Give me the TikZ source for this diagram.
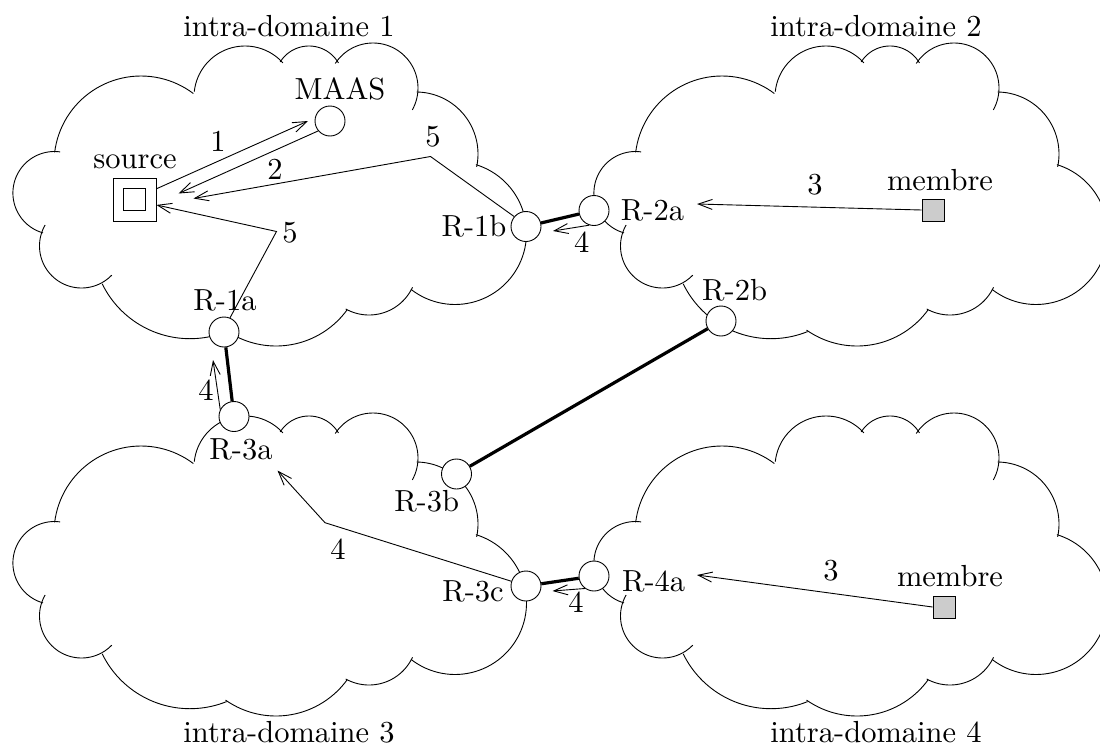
\documentclass[tikz,border=0pt]{standalone}
\usepackage{fontspec}
\setmainfont{lmroman10-regular.otf}
\usetikzlibrary{arrows.meta,calc}
\tikzset{
  cloudline/.style={line width=0.9pt},
  router/.style={circle,draw,line width=0.9pt,fill=white,minimum size=30pt,inner sep=0pt},
  srcbox/.style={draw,line width=0.9pt,fill=white,minimum size=43pt,inner sep=0pt},
  inbox/.style={draw,line width=0.9pt,minimum size=22pt,inner sep=0pt},
  mbox/.style={draw,line width=0.9pt,fill=black!20,minimum size=22pt,inner sep=0pt},
  arr/.style={line width=0.9pt,-{Straight Barb[length=14pt,width=10pt,line width=0.9pt]}},
  link/.style={line width=3.2pt},
  lbl/.style={anchor=base,inner sep=0pt,font=\fontsize{30.5}{36}\selectfont},
  xcloud/.pic={
    \draw[cloudline] plot[domain=187:307,samples=40] ({141+87*cos(\x)},{163+87*sin(\x)});
    \draw[cloudline] plot[domain=186:318,samples=40] ({245+51*cos(\x)},{97+51*sin(\x)});
    \draw[cloudline] plot[domain=212:330,samples=40] ({309+34*cos(\x)},{80+34*sin(\x)});
    \draw[cloudline] plot[domain=213:389,samples=50] ({373+45*cos(\x)},{88+45*sin(\x)});
    \draw[cloudline] plot[domain=270.6:372,samples=40] ({416+62*cos(\x)},{154+62*sin(\x)});
    \draw[cloudline] plot[domain=287:488,samples=60] ({455+71.5*cos(\x)},{233+71.5*sin(\x)});
    \draw[cloudline] plot[domain=25:119,samples=40] ({369+48*cos(\x)},{267+48*sin(\x)});
    \draw[cloudline] plot[domain=36:125,samples=40] ({276+88*cos(\x)},{258+88*sin(\x)});
    \draw[cloudline] plot[domain=68:154,samples=40] ({190+97.7*cos(\x)},{241+97.7*sin(\x)});
    \draw[cloudline] plot[domain=44:210,samples=50] ({81.5+42*cos(\x)},{246+42*sin(\x)});
    \draw[cloudline] plot[domain=106:278,samples=50] ({54.4+41.5*cos(\x)},{193+41.5*sin(\x)});
  }
}
\begin{document}
\begin{tikzpicture}[x=1pt,y=-1pt]
\useasboundingbox (0,0) rectangle (1100,747);
% clouds
\pic at (0,0) {xcloud};
\pic at (581,0) {xcloud};
\pic at (0,370) {xcloud};
\pic at (581,370) {xcloud};
% nodes
\node[srcbox] (src) at (134.5,199.5) {};
\node[inbox] (srcin) at (src) {};
\node[router] (maas) at (330,121) {};
\node[router] (r1a) at (224,332) {};
\node[router] (r1b) at (526,226.5) {};
\node[router] (r2a) at (594,210.5) {};
\node[router] (r2b) at (721,321) {};
\node[router] (r3a) at (234,416.5) {};
\node[router] (r3b) at (456.5,474) {};
\node[router] (r3c) at (526,586) {};
\node[router] (r4a) at (594,576) {};
\node[mbox] (m2) at (933,210) {};
\node[mbox] (m4) at (944,607) {};
% bend points
\coordinate (b5u) at (430.5,156.5);
\coordinate (b5l) at (276.5,231.5);
\coordinate (b4) at (325,522.7);
% inter-domain links
\draw[link] (r1a) -- (r3a);
\draw[link] (r1b) -- (r2a);
\draw[link] (r2b) -- (r3b);
\draw[link] (r3c) -- (r4a);
% messages
\draw[arr] (src.26) -- ($(maas)+(-22,0)$);
\draw[arr] (maas.220) -- ($(src)+(44,-6)$);
\draw[arr] (r1b.140) -- (b5u) -- ($(src)+(59,-1)$);
\draw[arr] (r1a.67) -- (b5l) -- (src.-14);
\draw[arr] (r2a.252) -- ($(r1b)+(27,4.5)$);
\draw[arr] (r3a.153) -- ($(r1a)+(-11,28)$);
\draw[arr] (r3c.162) -- (b4) -- ($(r3a)+(43.5,54)$);
\draw[arr] (m2.west) -- ($(r2a)+(103,-6.5)$);
\draw[arr] (m4.west) -- ($(r4a)+(103,-1)$);
\draw[arr] (r4a.234) -- ($(r3c)+(26.5,5)$);
% labels
\node[lbl] (d1) at (289,36.7) {intra-domaine 1};
\node[lbl] (d2) at (876,36.7) {intra-domaine 2};
\node[lbl] (d3) at (289,742) {intra-domaine 3};
\node[lbl] (d4) at (876,742) {intra-domaine 4};
\node[lbl] (lmaas) at (340,99.5) {MAAS};
\node[lbl] (lsrc) at (135,168) {source};
\node[lbl] (l1) at (218,151.7) {1};
\node[lbl] (l2) at (275,179.3) {2};
\node[lbl] (l5a) at (433,146.7) {5};
\node[lbl] (l5b) at (290,242.7) {5};
\node[lbl] (lr1a) at (225,310) {R-1a};
\node[lbl] (lr1b) at (474,236.7) {R-1b};
\node[lbl] (lr2a) at (652.5,220.7) {R-2a};
\node[lbl] (lr2b) at (734.6,300) {R-2b};
\node[lbl] (l3a) at (815,194) {3};
\node[lbl] (lm2) at (940,190) {membre};
\node[lbl] (l4a) at (581.7,252.7) {4};
\node[lbl] (l4b) at (206,400) {4};
\node[lbl] (lr3a) at (241,459.3) {R-3a};
\node[lbl] (lr3b) at (426.7,511) {R-3b};
\node[lbl] (l4c) at (338,559.3) {4};
\node[lbl] (lr3c) at (473,601.7) {R-3c};
\node[lbl] (lr4a) at (653.6,591.7) {R-4a};
\node[lbl] (l4d) at (576,612.7) {4};
\node[lbl] (l3b) at (831,580.7) {3};
\node[lbl] (lm4) at (950,586) {membre};
\end{tikzpicture}
\end{document}
